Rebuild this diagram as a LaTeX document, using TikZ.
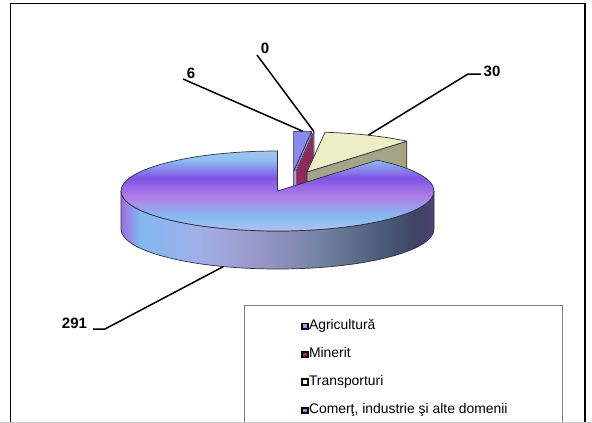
\documentclass[tikz,border=0pt]{standalone}
\usepackage{fontspec}
\setmainfont{Liberation Sans}
\definecolor{edgec}{HTML}{303040}
\definecolor{agri}{HTML}{8A8AEE}
\definecolor{mine}{HTML}{8E2A5C}
\definecolor{tratop}{HTML}{EEEEC6}
\definecolor{traside}{HTML}{A4A486}
\definecolor{legagri}{HTML}{9999FF}
\definecolor{legmine}{HTML}{993366}
\definecolor{legtra}{HTML}{FFFFCC}
\definecolor{legcom}{HTML}{A080F0}
\definecolor{t1}{HTML}{B4C0F0}
\definecolor{t2}{HTML}{84BCF0}
\definecolor{t3}{HTML}{B07EE8}
\definecolor{t4}{HTML}{8252E6}
\definecolor{t5}{HTML}{8CBEF0}
\definecolor{t6}{HTML}{A4C6F0}
\definecolor{s1}{HTML}{9C6EE0}
\definecolor{s2}{HTML}{82B8F0}
\definecolor{s3}{HTML}{A2B0E8}
\definecolor{s4}{HTML}{9898C8}
\definecolor{s5}{HTML}{7282A2}
\definecolor{s6}{HTML}{4A5C7A}
\definecolor{s7}{HTML}{404262}
\definecolor{s8}{HTML}{50407A}
\pgfdeclareverticalshading{bigtop}{100bp}{color(0bp)=(t1); color(25bp)=(t1); color(33.75bp)=(t2); color(46.25bp)=(t3); color(58.1bp)=(t4); color(69.4bp)=(t5); color(75bp)=(t6); color(100bp)=(t6)}
\pgfdeclarehorizontalshading{bigside}{100bp}{color(0bp)=(s1); color(25bp)=(s1); color(28bp)=(s2); color(37.5bp)=(s3); color(47bp)=(s4); color(57bp)=(s5); color(66.5bp)=(s6); color(72.7bp)=(s7); color(75bp)=(s8); color(100bp)=(s8)}
\begin{document}
\begin{tikzpicture}[x=1pt,y=1pt,
  outl/.style={draw=edgec, line width=0.7pt, line join=round},
  lbl/.style={font=\fontsize{15}{18}\selectfont\bfseries, inner sep=0pt},
  lead/.style={line width=1.5pt},
  legtxt/.style={font=\fontsize{13.9}{17}\selectfont, anchor=base west, inner sep=0pt},
  legmark/.style={draw=black, line width=1.8pt, rectangle, minimum size=5.4pt, inner sep=0pt}]
\useasboundingbox (0,0) rectangle (592,-423);
% outer frame and legend box
\draw[line width=1.2pt] (10.5,-3.5) rectangle (585,-440);
\draw[draw=gray, line width=0.9pt] (244,-305) rectangle (562,-440);
\draw[draw=gray!45, line width=0.8pt] (0,-422.6) -- (592,-422.6);

% ---- Agricultura (6) ----
\coordinate (A) at (293.6,-171.2);
\path[outl, fill=agri] (A) -- ++(83.39:156.5 and 40) -- ++(0,-38) -- (293.6,-209.2) -- cycle;
\path[outl, fill=agri] (A) -- ++(90:156.5 and 40) arc[start angle=90, end angle=83.39, x radius=156.5, y radius=40] -- cycle;
% ---- Minerit (0) ----
\coordinate (M) at (295.9,-171.2);
\path[draw=white, line width=0.5pt, fill=mine] (M) -- ++(83.39:156.5 and 40) -- ++(0,-38) -- (295.9,-209.2) -- cycle;
\path[outl] (M) -- ++(83.39:156.5 and 40) -- ++(0,-38);
% ---- Transporturi (30) ----
\coordinate (T) at (307,-172);
\path[outl, fill=traside] (T) -- ++(50.36:156.5 and 40) -- ++(0,-38) -- (307,-210) -- cycle;
\path[outl, fill=tratop] (T) -- ++(83.39:156.5 and 40) arc[start angle=83.39, end angle=50.36, x radius=156.5, y radius=40] -- cycle;
% ---- Comert (291) ----
\coordinate (B) at (277.5,-191);
\path[shading=bigside] (121,-191) arc[start angle=180, end angle=360, x radius=156.5, y radius=40] -- ++(0,-38) arc[start angle=360, end angle=180, x radius=156.5, y radius=40] -- cycle;
\path[outl] (121,-191) arc[start angle=180, end angle=360, x radius=156.5, y radius=40] -- ++(0,-38) arc[start angle=360, end angle=180, x radius=156.5, y radius=40] -- cycle;
\path[shading=bigtop] (B) -- ++(0,40) arc[start angle=90, end angle=410.36, x radius=156.5, y radius=40] -- cycle;
\path[outl] (B) -- ++(0,40) arc[start angle=90, end angle=410.36, x radius=156.5, y radius=40] -- cycle;

% ---- data labels and leaders ----
\node[lbl] (l0) at (265,-48) {0};
\coordinate (l0a) at (257,-55);
\coordinate (p0) at (313.9,-131.5);
\draw[lead] (l0a) -- (p0);

\node[lbl] (l6) at (191,-73) {6};
\coordinate (l6a) at (183,-79);
\coordinate (p6) at (302.6,-131.2);
\draw[lead] (l6a) -- (p6);

\node[lbl] (l30) at (492,-71) {30};
\coordinate (l30a) at (481,-74);
\coordinate (l30b) at (468,-74);
\coordinate (p30) at (368.5,-135);
\draw[lead] (l30a) -- (l30b) -- (p30);

\node[lbl] (l291) at (74.5,-323) {291};
\coordinate (l291a) at (93,-329);
\coordinate (l291b) at (105,-329);
\coordinate (p291) at (223.5,-266.5);
\draw[lead] (l291a) -- (l291b) -- (p291);

% ---- legend ----
\node[legmark, fill=legagri] (k1) at (305,-326.2) {};
\node[legtxt] (e1) at (308.8,-329.5) {Agricultură};
\node[legmark, fill=legmine] (k2) at (305,-354.4) {};
\node[legtxt] (e2) at (308.8,-357.7) {Minerit};
\node[legmark, fill=legtra] (k3) at (305,-382.0) {};
\node[legtxt] (e3) at (308.8,-385.3) {Transporturi};
\node[legmark, fill=legcom] (k4) at (305,-410.4) {};
\node[legtxt] (e4) at (308.8,-413.7) {Comerţ, industrie şi alte domenii};
\end{tikzpicture}
\end{document}
